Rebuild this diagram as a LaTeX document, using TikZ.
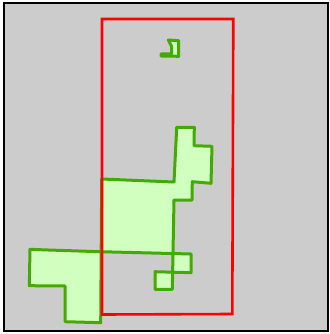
\documentclass[tikz,border=0pt]{standalone}
\usepackage{tikz}
\definecolor{plotgray}{HTML}{CCCCCC}
\definecolor{regionline}{HTML}{44AA00}
\definecolor{regionfill}{HTML}{D0FFC0}

\begin{document}
\begin{tikzpicture}[x=1pt, y=-1pt, frame/.style={draw=black, line width=2.6pt, fill=plotgray}, window/.style={draw=red, line width=2.6pt}, region/.style={draw=regionline, line width=3pt, fill=regionfill, even odd rule, line join=round}]
\useasboundingbox (0,0) rectangle (329,334);
% plot area
\draw[frame] (4,3) rectangle (328,331);
% green regions
\draw[region] (101.7,179) -- (174,182) -- (176.7,127.3) -- (194.3,127.3) -- (194,145.7) -- (212,146.3) -- (211,183.3) -- (192.3,181.7) -- (192,200) -- (174,200) -- (172.3,289.3) -- (155,289.3) -- (155,271.7) -- (191,272.7) -- (191,254) -- (100,251.7) -- (48.3,250) -- (30,249.3) -- (29.3,285.7) -- (65,286) -- (65,321.7) -- (100.7,322.7) -- cycle;
\draw[region] (168.3,40) -- (178.7,40.7) -- (178.7,56.3) -- (161,56) -- (161,54) -- (171.7,53.7) -- (171.7,46.7) -- cycle;
% selection window
\draw[window] (102,19) -- (233.3,19) -- (232.3,314) -- (102,314.5) -- cycle;
\end{tikzpicture}
\end{document}
